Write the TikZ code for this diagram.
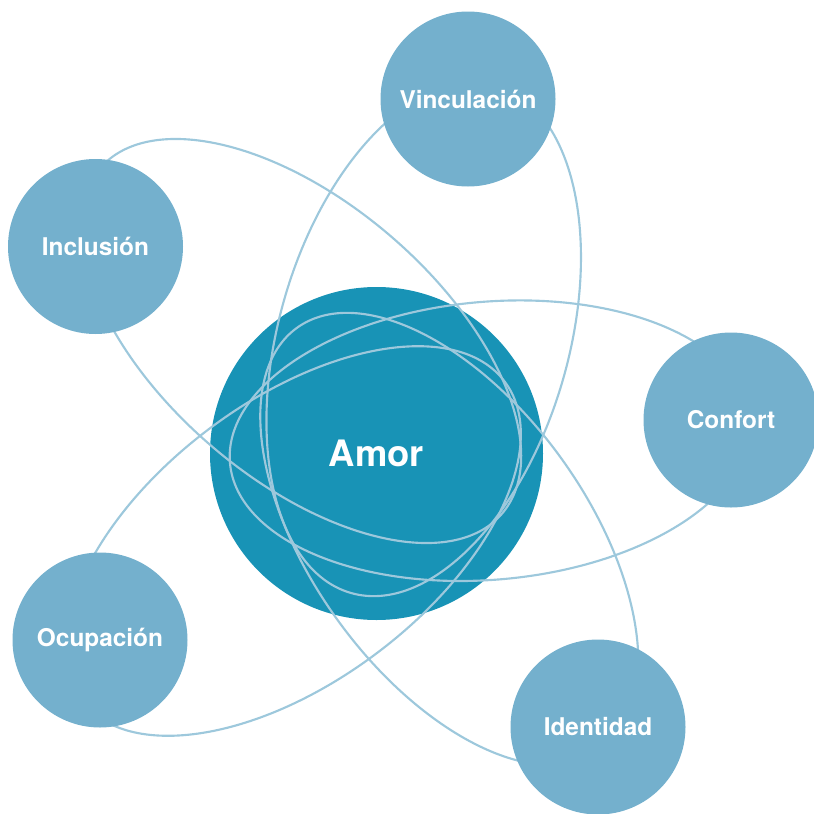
\documentclass[tikz,border=0pt]{standalone}
\usepackage{fontspec}
\setmainfont{TeX Gyre Heros}
\definecolor{amorblue}{RGB}{24,147,182}
\definecolor{petalblue}{RGB}{116,176,205}
\definecolor{orbitblue}{RGB}{157,200,220}
\tikzset{
  amorcircle/.style={circle, fill=amorblue, minimum size=249.75pt, inner sep=0pt, text=white, font=\bfseries\fontsize{27.3}{30}\selectfont},
  petal/.style={circle, fill=petalblue, minimum size=131.25pt, inner sep=0pt, text=white, font=\bfseries\fontsize{18.3}{20}\selectfont},
  orbit/.style={draw=orbitblue, line width=1.6pt}
}

\begin{document}
\begin{tikzpicture}[x=0.75pt,y=0.75pt,yscale=-1,xscale=1]
\useasboundingbox (0,0) rectangle (814,814);

%Shape: Circle [Amor]
\node (amor) [amorcircle] at (376.5,453.5) {Amor};

%Shape: Ellipse [Vinculacion]
\draw [orbit, rotate around={106:(423.7,339.2)}] (423.7,339.2) ellipse [x radius=264, y radius=145];
%Shape: Ellipse [Inclusion]
\draw [orbit, rotate around={40.7:(301,341)}] (301,341) ellipse [x radius=265, y radius=138];
%Shape: Ellipse [Confort]
\draw [orbit, rotate around={175.1:(490,440.7)}] (490,440.7) ellipse [x radius=261, y radius=139];
%Shape: Ellipse [Ocupacion]
\draw [orbit, rotate around={-37:(293,541)}] (293,541) ellipse [x radius=265, y radius=140];
%Shape: Ellipse [Identidad]
\draw [orbit, rotate around={234.2:(449.3,539)}] (449.3,539) ellipse [x radius=260.4, y radius=138];

%Shape: Circle
\node (vinculacion) [petal] at (468,99) {Vinculación};
%Shape: Circle
\node (inclusion) [petal] at (95.5,246.5) {Inclusión};
%Shape: Circle
\node (confort) [petal] at (731,420) {Confort};
%Shape: Circle
\node (ocupacion) [petal] at (100,640) {Ocupación};
%Shape: Circle
\node (identidad) [petal] at (598,727) {Identidad};

\end{tikzpicture}
\end{document}
